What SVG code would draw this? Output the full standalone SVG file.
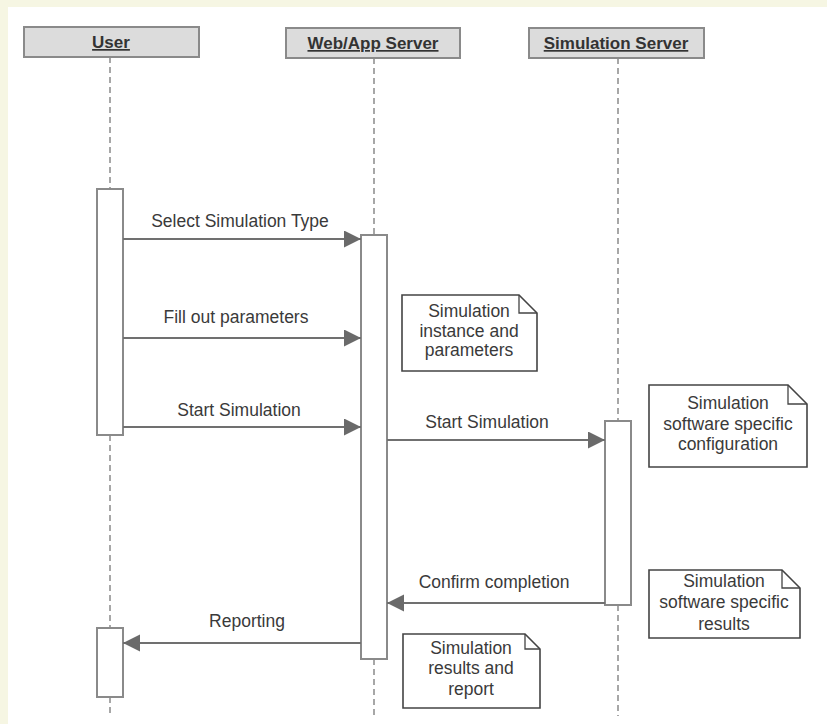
<svg xmlns="http://www.w3.org/2000/svg" width="827" height="724" viewBox="0 0 827 724">
<style>
.hdr{fill:#dcdcdc;stroke:#8a8a8a;stroke-width:2}
.hdrt{font-family:"Liberation Sans",Arial,sans-serif;font-size:17px;font-weight:bold;fill:#333;text-anchor:middle;text-decoration:underline}
.life{stroke:#8a8a8a;stroke-width:1.5;stroke-dasharray:6 4;fill:none}
.act{fill:#fff;stroke:#8a8a8a;stroke-width:2}
.msg{stroke:#707070;stroke-width:2;fill:none}
.lbl{font-family:"Liberation Sans",Arial,sans-serif;font-size:17.5px;fill:#3a3a3a;text-anchor:middle}
.note{fill:#fff;stroke:#444;stroke-width:1.6}
.fold{fill:none;stroke:#444;stroke-width:1.3}
</style>
<defs>
<marker id="ah" markerWidth="18" markerHeight="18" refX="17" refY="8.5" orient="auto" markerUnits="userSpaceOnUse">
<path d="M0,0 L17,8.5 L0,17 Z" fill="#6a6a6a"/>
</marker>
</defs>
<rect x="0" y="0" width="827" height="724" fill="#f6f6e3"/>
<rect x="8" y="7" width="819" height="717" fill="#fff"/>

<g id="user">
<rect class="hdr" x="24" y="27" width="175" height="30"/>
<text class="hdrt" x="111" y="48">User</text>
</g>
<g id="webapp">
<rect class="hdr" x="286" y="28" width="174" height="30"/>
<text class="hdrt" x="373" y="49">Web/App Server</text>
</g>
<g id="simserver">
<rect class="hdr" x="529" y="28" width="175" height="30"/>
<text class="hdrt" x="616" y="49">Simulation Server</text>
</g>

<g id="lifelines">
<line class="life" x1="110" y1="57" x2="110" y2="189"/>
<line class="life" x1="110" y1="435" x2="110" y2="628"/>
<line class="life" x1="110" y1="697" x2="110" y2="716"/>
<line class="life" x1="374" y1="58" x2="374" y2="235"/>
<line class="life" x1="374" y1="659" x2="374" y2="716"/>
<line class="life" x1="618" y1="58" x2="618" y2="421"/>
<line class="life" x1="618" y1="605" x2="618" y2="716"/>
</g>

<g id="act-user-1"><rect class="act" x="97" y="189" width="26" height="246"/></g>
<g id="act-web"><rect class="act" x="361" y="235" width="26" height="424"/></g>
<g id="act-sim"><rect class="act" x="605" y="421" width="26" height="184"/></g>
<g id="act-user-2"><rect class="act" x="97" y="628" width="26" height="69"/></g>

<g id="connectors">
<line class="msg" x1="123" y1="239" x2="361" y2="239" marker-end="url(#ah)"/>
<line class="msg" x1="123" y1="338" x2="361" y2="338" marker-end="url(#ah)"/>
<line class="msg" x1="123" y1="427" x2="361" y2="427" marker-end="url(#ah)"/>
<line class="msg" x1="387" y1="440" x2="605" y2="440" marker-end="url(#ah)"/>
<line class="msg" x1="605" y1="603" x2="387" y2="603" marker-end="url(#ah)"/>
<line class="msg" x1="361" y1="643" x2="123" y2="643" marker-end="url(#ah)"/>
<text class="lbl" x="240" y="227">Select Simulation Type</text>
<text class="lbl" x="236" y="323">Fill out parameters</text>
<text class="lbl" x="239" y="416">Start Simulation</text>
<text class="lbl" x="487" y="428">Start Simulation</text>
<text class="lbl" x="494" y="588">Confirm completion</text>
<text class="lbl" x="247" y="627">Reporting</text>
</g>

<g id="note-instance">
<path class="note" d="M402,295 H519 L537,313 V371 H402 Z"/>
<path class="fold" d="M519,295 V313 H537"/>
<text class="lbl" x="469" y="317">Simulation</text>
<text class="lbl" x="469" y="337">instance and</text>
<text class="lbl" x="469" y="356">parameters</text>
</g>
<g id="note-config">
<path class="note" d="M649,385 H788 L807,404 V467 H649 Z"/>
<path class="fold" d="M788,385 V404 H807"/>
<text class="lbl" x="728" y="409">Simulation</text>
<text class="lbl" x="728" y="430">software specific</text>
<text class="lbl" x="728" y="450">configuration</text>
</g>
<g id="note-results">
<path class="note" d="M649,570 H782 L800,588 V638 H649 Z"/>
<path class="fold" d="M782,570 V588 H800"/>
<text class="lbl" x="724" y="587">Simulation</text>
<text class="lbl" x="724" y="608">software specific</text>
<text class="lbl" x="724" y="630">results</text>
</g>
<g id="note-report">
<path class="note" d="M403,634 H525 L540,649 V708 H403 Z"/>
<path class="fold" d="M525,634 V649 H540"/>
<text class="lbl" x="471" y="654">Simulation</text>
<text class="lbl" x="471" y="674">results and</text>
<text class="lbl" x="471" y="695">report</text>
</g>
</svg>
